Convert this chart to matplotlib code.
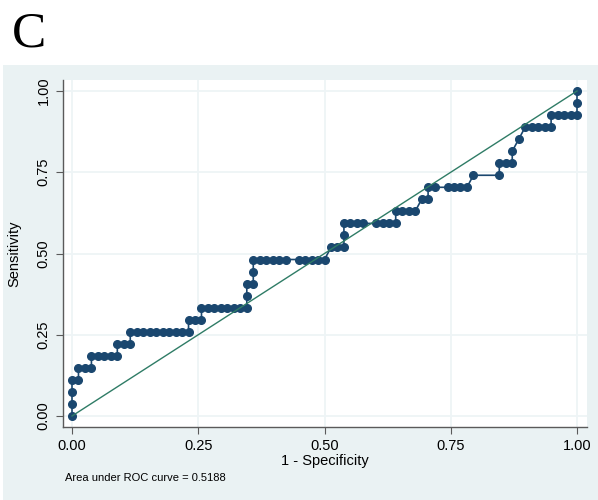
import numpy as np
import matplotlib
matplotlib.use("Agg")
import matplotlib.pyplot as plt
from matplotlib.patches import Rectangle

# ROC points as counts: false positives (of 78 negatives) and true positives (of 27 positives)
n_neg = 78
n_pos = 27
fp_count = [0, 0, 0, 0, 1, 1, 2, 3, 3, 4, 5, 6, 7, 7, 8, 9, 9,
            10, 11, 12, 13, 14, 15, 16, 17, 18, 18, 19, 20, 20,
            21, 22, 23, 24, 25, 26, 27, 27, 27, 28, 28, 28,
            29, 30, 31, 32, 33, 35, 36, 37, 38, 39, 40, 41, 42, 42, 42,
            43, 44, 45, 47, 48, 49, 50, 50, 51, 52, 53, 54, 55, 55, 56,
            58, 59, 60, 61, 62, 66, 66, 67, 68, 68, 69, 70,
            71, 72, 73, 74, 74, 75, 76, 77, 78, 78, 78]
tp_count = [0, 1, 2, 3, 3, 4, 4, 4, 5, 5, 5, 5, 5, 6, 6, 6, 7,
            7, 7, 7, 7, 7, 7, 7, 7, 7, 8, 8, 8, 9,
            9, 9, 9, 9, 9, 9, 9, 10, 11, 11, 12, 13,
            13, 13, 13, 13, 13, 13, 13, 13, 13, 13, 14, 14, 14, 15, 16,
            16, 16, 16, 16, 16, 16, 16, 17, 17, 17, 17, 18, 18, 19, 19,
            19, 19, 19, 19, 20, 20, 21, 21, 21, 22, 23, 24,
            24, 24, 24, 24, 25, 25, 25, 25, 25, 26, 27]
auc_text = "Area under ROC curve = 0.5188"
ticks = [0.0, 0.25, 0.5, 0.75, 1.0]
tick_labels = ["0.00", "0.25", "0.50", "0.75", "1.00"]

fpr = np.array(fp_count) / n_neg
tpr = np.array(tp_count) / n_pos

plt.rcParams['font.family'] = ['Liberation Sans', 'DejaVu Sans']

navy = "#1A476F"
green = "#2F7C66"
panel = "#EAF2F3"
grid = "#EEF4F6"
axcol = "#5A5A5A"

fig = plt.figure(figsize=(5.98, 5.0), dpi=100)
fig.patch.set_facecolor("white")
# light graph region behind the plot
fig.add_artist(Rectangle((3 / 598, 0), 1, 435 / 500, transform=fig.transFigure,
                         facecolor=panel, edgecolor="none", zorder=-5))

ax = fig.add_axes([63 / 598, 73 / 500, 524 / 598, 347 / 500])
ax.set_zorder(1)
ax.set_facecolor("white")
ax.set_xlim(-9 / 505, 1 + 10 / 505)
ax.set_ylim(-11 / 325, 1 + 11 / 325)

ax.plot(fpr, tpr, color=navy, lw=1.2, marker="o", ms=5.5, mec=navy, mfc=navy, zorder=3)
ax.plot([0, 1], [0, 1], color=green, lw=1.0, zorder=4)

ax.set_xticks(ticks)
ax.set_xticklabels(tick_labels, fontsize=10.5)
ax.set_yticks(ticks)
ax.set_yticklabels(tick_labels, fontsize=10.5, rotation=90, va="center")
ax.grid(True, color=grid, lw=1.3, zorder=0)
ax.set_axisbelow(True)
ax.tick_params(direction="out", length=5, width=0.8, color=axcol, labelcolor="black", pad=4)

for side in ("top", "right"):
    ax.spines[side].set_visible(False)
for side in ("left", "bottom"):
    ax.spines[side].set_color(axcol)
    ax.spines[side].set_linewidth(1.0)

ax.set_xlabel("1 - Specificity", fontsize=10.5, labelpad=0)
ax.set_ylabel("Sensitivity", fontsize=10.5, labelpad=11)

fig.text(65 / 598, 1 - 478 / 500, auc_text, fontsize=8, va="center", ha="left")
fig.text(12 / 598, 1 - 34 / 500, "C", fontsize=37, family="Liberation Serif",
         va="center", ha="left")

fig.savefig("out.png", dpi=100)
